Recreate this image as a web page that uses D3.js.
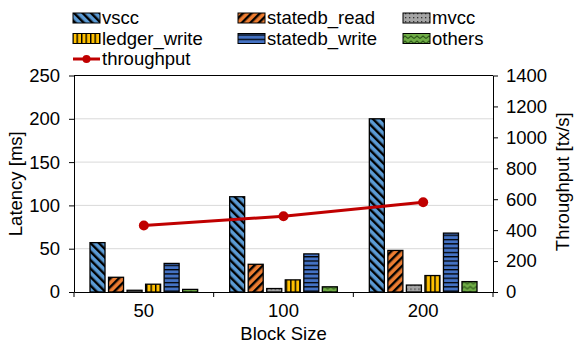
<!DOCTYPE html>
<html>
<head>
<meta charset="utf-8">
<script src="https://cdn.jsdelivr.net/npm/d3@7"></script>
<style>
  body { margin: 0; background: #fff; }
  text { font-family: "Liberation Sans", Arial, sans-serif; fill: #000; }
</style>
</head>
<body>
<div id="chart"></div>
<script>
// data
const blockSizes = ["50", "100", "200"]
const seriesNames = ["vscc", "statedb_read", "mvcc", "ledger_write", "statedb_write", "others"]
const vscc = [57, 110, 200]
const statedbRead = [17, 32, 48]
const mvcc = [2, 4, 8]
const ledgerWrite = [9, 14, 19]
const statedbWrite = [33, 44, 68]
const others = [3, 6, 12]
const throughput = [430, 490, 580]
const latencyTicks = [0, 50, 100, 150, 200, 250]
const throughputTicks = [0, 200, 400, 600, 800, 1000, 1200, 1400]

const seriesValues = [vscc, statedbRead, mvcc, ledgerWrite, statedbWrite, others]

const W = 576, H = 346
const margin = {top: 75.5, right: 83, bottom: 54, left: 74}
const width = W - margin.left - margin.right
const height = H - margin.top - margin.bottom
const fontSize = "18.5px"

const svg = d3.select("#chart").append("svg")
    .attr("width", W)
    .attr("height", H)

// patterns for the bars
const defs = svg.append("defs")
function stripes(id, bg, angle, size, lineW) {
    const p = defs.append("pattern")
        .attr("id", id)
        .attr("patternUnits", "userSpaceOnUse")
        .attr("width", size).attr("height", size)
        .attr("patternTransform", `rotate(${angle})`)
    p.append("rect").attr("width", size).attr("height", size).attr("fill", bg)
    p.append("rect").attr("width", lineW).attr("height", size).attr("fill", "#000")
}
stripes("p-vscc", "#5b9bd5", -45, 6, 2.4)
stripes("p-read", "#ed7d31", 45, 6, 2.4)
stripes("p-ledger", "#ffc000", 0, 4.5, 1.4)
stripes("p-write", "#4472c4", 90, 4.3, 1.3)

const dots = defs.append("pattern")
    .attr("id", "p-mvcc")
    .attr("patternUnits", "userSpaceOnUse")
    .attr("width", 4).attr("height", 4)
dots.append("rect").attr("width", 4).attr("height", 4).attr("fill", "#a5a5a5")
dots.append("rect").attr("x", 1).attr("y", 1).attr("width", 1.3).attr("height", 1.3).attr("fill", "#333")

const wave = defs.append("pattern")
    .attr("id", "p-others")
    .attr("patternUnits", "userSpaceOnUse")
    .attr("width", 6).attr("height", 5)
wave.append("rect").attr("width", 6).attr("height", 5).attr("fill", "#70ad47")
wave.append("path").attr("d", "M0,3.5 L3,1 L6,3.5")
    .attr("fill", "none").attr("stroke", "#2f5a1a").attr("stroke-width", 1.1)

const fills = ["url(#p-vscc)", "url(#p-read)", "url(#p-mvcc)", "url(#p-ledger)", "url(#p-write)", "url(#p-others)"]

const g = svg.append("g")
    .attr("transform", `translate(${margin.left},${margin.top})`)

// scales
const x0 = d3.scaleBand().domain(blockSizes).range([0, width])
const x1 = d3.scaleBand().domain(seriesNames)
    .range([16, x0.bandwidth() - 16])
    .paddingInner(0.19)
const yLeft = d3.scaleLinear().domain([0, 250]).range([height, 0])
const yRight = d3.scaleLinear().domain([0, 1400]).range([height, 0])

// gridlines
g.append("g")
    .selectAll("line")
    .data(latencyTicks.filter(t => t > 0 && t < 250))
    .enter().append("line")
    .attr("x1", 0).attr("x2", width)
    .attr("y1", d => yLeft(d)).attr("y2", d => yLeft(d))
    .attr("stroke", "#d9d9d9").attr("stroke-width", 1)

// bars
const groups = g.selectAll(".group")
    .data(blockSizes)
    .enter().append("g")
    .attr("class", "group")
    .attr("transform", d => `translate(${x0(d)},0)`)

groups.selectAll("rect")
    .data((d, i) => seriesNames.map((name, s) => ({name, s, value: seriesValues[s][i]})))
    .enter().append("rect")
    .attr("x", d => x1(d.name))
    .attr("y", d => yLeft(d.value))
    .attr("width", x1.bandwidth())
    .attr("height", d => height - yLeft(d.value))
    .attr("fill", d => fills[d.s])
    .attr("stroke", "#000")
    .attr("stroke-width", 1.3)

// top frame line
g.append("line")
    .attr("x1", 0).attr("x2", width)
    .attr("y1", 0).attr("y2", 0)
    .attr("stroke", "#000")

// axes
function styleAxis(sel) {
    sel.selectAll("text").style("font-size", fontSize)
    sel.select(".domain").attr("stroke", "#000")
    sel.selectAll(".tick line").attr("stroke", "#000")
}

g.append("g")
    .call(d3.axisLeft(yLeft).tickValues(latencyTicks).tickSize(5).tickSizeOuter(0).tickPadding(9))
    .call(styleAxis)

g.append("g")
    .attr("transform", `translate(${width},0)`)
    .call(d3.axisRight(yRight).tickValues(throughputTicks).tickFormat(d3.format("d"))
        .tickSize(5).tickSizeOuter(0).tickPadding(8))
    .call(styleAxis)

g.append("g")
    .attr("transform", `translate(0,${height})`)
    .call(d3.axisBottom(x0).tickSize(0).tickPadding(12))
    .call(styleAxis)

// category separators on the x axis
g.append("g")
    .selectAll("line")
    .data(blockSizes.concat(["end"]))
    .enter().append("line")
    .attr("x1", (d, i) => i * x0.step())
    .attr("x2", (d, i) => i * x0.step())
    .attr("y1", height).attr("y2", height + 5)
    .attr("stroke", "#000")

// throughput line
const line = d3.line()
    .x((d, i) => x0(blockSizes[i]) + x0.bandwidth() / 2)
    .y(d => yRight(d))

g.append("path")
    .datum(throughput)
    .attr("d", line)
    .attr("fill", "none")
    .attr("stroke", "#c00000")
    .attr("stroke-width", 3)

g.selectAll(".pt")
    .data(throughput)
    .enter().append("circle")
    .attr("class", "pt")
    .attr("cx", (d, i) => x0(blockSizes[i]) + x0.bandwidth() / 2)
    .attr("cy", d => yRight(d))
    .attr("r", 5)
    .attr("fill", "#c00000")

// axis titles
svg.append("text")
    .attr("transform", `translate(22,${margin.top + height / 2}) rotate(-90)`)
    .attr("text-anchor", "middle")
    .style("font-size", fontSize)
    .text("Latency [ms]")

svg.append("text")
    .attr("transform", `translate(569,${margin.top + height / 2 - 2}) rotate(-90)`)
    .attr("text-anchor", "middle")
    .style("font-size", fontSize)
    .text("Throughput [tx/s]")

svg.append("text")
    .attr("x", margin.left + width / 2)
    .attr("y", 340)
    .attr("text-anchor", "middle")
    .style("font-size", fontSize)
    .text("Block Size")

// legend
const legendCols = [73, 238, 403]
const legendRows = [18, 38.5, 59]
const legend = svg.append("g")
seriesNames.forEach((name, s) => {
    const lx = legendCols[s % 3]
    const ly = legendRows[Math.floor(s / 3)]
    legend.append("rect")
        .attr("x", lx).attr("y", ly - 5)
        .attr("width", 27).attr("height", 10)
        .attr("fill", fills[s])
        .attr("stroke", "#000").attr("stroke-width", 1)
    legend.append("text")
        .attr("x", lx + 29).attr("y", ly)
        .attr("dy", "0.35em")
        .style("font-size", fontSize)
        .text(name)
})
legend.append("line")
    .attr("x1", 73).attr("x2", 100)
    .attr("y1", legendRows[2]).attr("y2", legendRows[2])
    .attr("stroke", "#c00000").attr("stroke-width", 3)
legend.append("circle")
    .attr("cx", 86.5).attr("cy", legendRows[2]).attr("r", 4)
    .attr("fill", "#c00000")
legend.append("text")
    .attr("x", 102).attr("y", legendRows[2])
    .attr("dy", "0.35em")
    .style("font-size", fontSize)
    .text("throughput")
</script>
</body>
</html>
